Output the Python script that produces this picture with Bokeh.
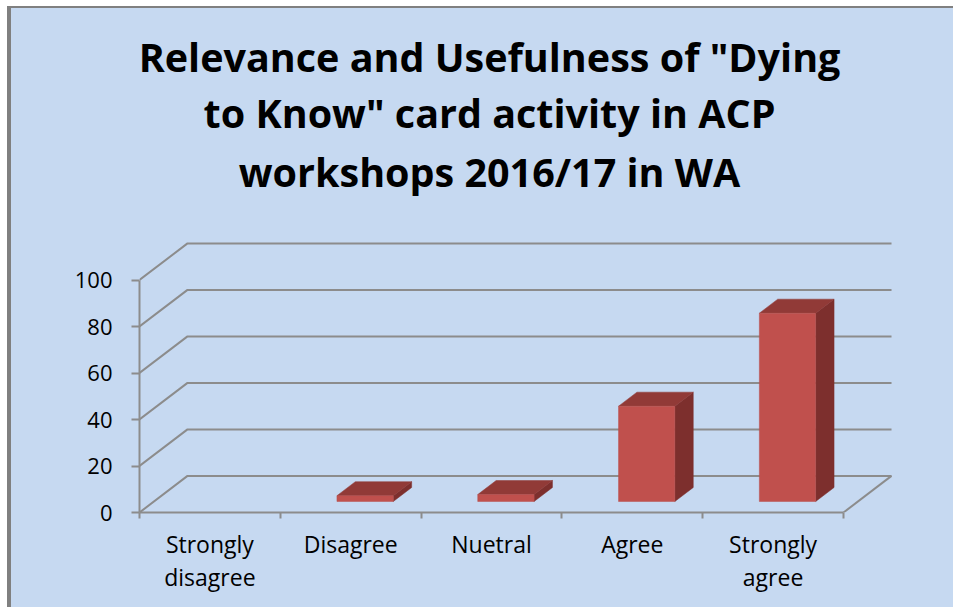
import numpy as np
from bokeh.plotting import figure
from bokeh.models import Range1d, FixedTicker, Label
from bokeh.embed import file_html
from bokeh.resources import INLINE

# ---- data ----
categories = ["Strongly\ndisagree", "Disagree", "Nuetral", "Agree", "Strongly\nagree"]
values = [0, 2.5, 3, 41, 81]
y_ticks = [0, 20, 40, 60, 80, 100]
title_lines = ['Relevance and Usefulness of "Dying', 'to Know" card activity in ACP', 'workshops 2016/17 in WA']

# ---- style constants ----
BG = "#C6D9F1"
GRID = "#8C8C8C"
FRONT = "#C0504D"
SIDE = "#7D2F2D"
TOP = "#913A37"
FONT = "Open Sans"

N = len(categories)
D_X, D_Y = 0.341, 15.75          # depth of the floor (category units, value units)
F0, FD = 0.30, 0.383             # bar front position / bar depth as fraction of the floor depth
BAR_W = 0.40
PX_PER_UNIT = 2.325

# frame spans the whole height of the chart area so the title can sit inside it
p = figure(width=946, height=601, output_backend="svg", toolbar_location=None,
           x_range=Range1d(0, 5.348), y_range=Range1d(0, 504 / PX_PER_UNIT),
           min_border_left=128, min_border_right=65, min_border_top=0, min_border_bottom=97)
p.styles = {"margin-left": "7px", "margin-top": "6px", "background-color": BG,
            "border-left": "4px solid #808080", "border-top": "2px solid #808080"}
p.background_fill_alpha = 0
p.border_fill_alpha = 0
p.outline_line_color = None
p.xgrid.visible = False
p.ygrid.visible = False

# title: three centred lines (baselines given in pixels from the canvas top)
title_baselines_px = [48, 104, 163]
for txt, by in zip(title_lines, title_baselines_px):
    p.add_layout(Label(x=2.486, y=(504 - by) / PX_PER_UNIT, text=txt,
                       text_align="center", text_baseline="alphabetic",
                       text_font=FONT, text_font_size="39.5px", text_font_style="bold",
                       text_color="#000000"))

# back wall gridlines
xs, ys = [], []
for v in y_ticks:
    xs.append([0, D_X, N + D_X])
    ys.append([v, v + D_Y, v + D_Y])
xs.append([N, N + D_X])
ys.append([0, D_Y])
p.multi_line(xs, ys, line_color=GRID, line_width=2)

# bars (oblique 3D)
idx = np.arange(N)
vals = np.array(values, dtype=float)
mask = vals > 0
x0 = idx + 0.5 + F0 * D_X - BAR_W / 2
x1 = x0 + BAR_W
yb = np.full(N, F0 * D_Y)
yt = yb + vals
ddx, ddy = FD * D_X, FD * D_Y

side_xs = [[x1[i], x1[i] + ddx, x1[i] + ddx, x1[i]] for i in idx if mask[i]]
side_ys = [[yb[i], yb[i] + ddy, yt[i] + ddy, yt[i]] for i in idx if mask[i]]
top_xs = [[x0[i], x1[i], x1[i] + ddx, x0[i] + ddx] for i in idx if mask[i]]
top_ys = [[yt[i], yt[i], yt[i] + ddy, yt[i] + ddy] for i in idx if mask[i]]
p.patches(side_xs, side_ys, fill_color=SIDE, line_color=SIDE, line_width=0.5)
p.patches(top_xs, top_ys, fill_color=TOP, line_color=TOP, line_width=0.5)
p.quad(left=x0[mask], right=x1[mask], bottom=yb[mask], top=yt[mask],
       fill_color=FRONT, line_color="#B8514E", line_width=0.5)

# axes
ya = p.yaxis[0]
ya.ticker = FixedTicker(ticks=y_ticks)
ya.bounds = (0, 100)
ya.axis_line_color = GRID
ya.axis_line_width = 2
ya.major_tick_line_color = GRID
ya.major_tick_line_width = 2
ya.major_tick_out = 8
ya.major_tick_in = 0
ya.minor_tick_line_color = None
ya.major_label_standoff = 19
ya.major_label_text_font = FONT
ya.major_label_text_font_size = "22px"
ya.major_label_text_color = "#000000"

xa = p.xaxis[0]
xa.ticker = FixedTicker(ticks=list(idx + 0.5), minor_ticks=list(range(N + 1)))
xa.major_label_overrides = {float(i + 0.5): c for i, c in enumerate(categories)}
xa.bounds = (0, N)
xa.axis_line_color = GRID
xa.axis_line_width = 2
xa.major_tick_line_color = None
xa.major_tick_out = 0
xa.major_tick_in = 0
xa.minor_tick_line_color = GRID
xa.minor_tick_line_width = 2
xa.minor_tick_out = 6
xa.minor_tick_in = 0
xa.major_label_standoff = 9
xa.major_label_text_font = FONT
xa.major_label_text_font_size = "23px"
xa.major_label_text_color = "#000000"
xa.major_label_text_line_height = 1.05

open("out.html", "w").write(file_html(p, INLINE))
